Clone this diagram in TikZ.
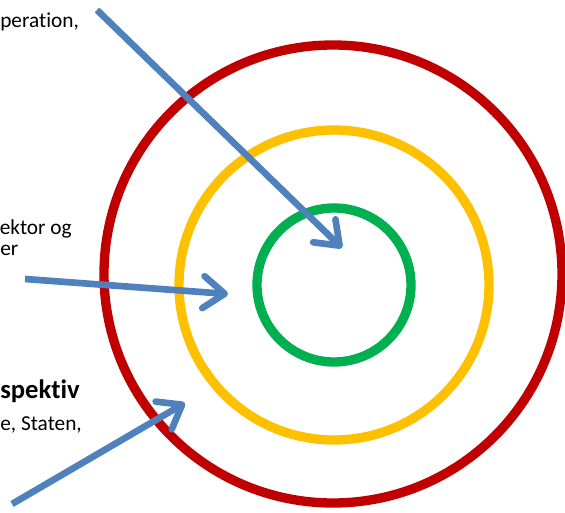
\documentclass[tikz,border=0pt]{standalone}
\usepackage{fontspec}
\setmainfont{Carlito}[Ligatures=NoCommon]
\usepackage{tikz}
\usetikzlibrary{arrows.meta,positioning}

\definecolor{ringred}{RGB}{192,0,0}
\definecolor{ringyellow}{RGB}{255,192,0}
\definecolor{ringgreen}{RGB}{0,176,80}
\definecolor{arrowblue}{RGB}{79,129,189}

\begin{document}
\begin{tikzpicture}[x=0.75pt,y=-0.75pt,
                ring/.style={line width=7pt},
                pointer/.style={arrowblue, line width=5pt, -{Straight Barb[length=16pt,width=24pt,round]}},
                label/.style={anchor=base west, inner sep=0pt, font=\fontsize{16}{19}\selectfont},
                boldlabel/.style={label, font=\fontsize{20}{24}\selectfont\bfseries}]
                \useasboundingbox (0,0) rectangle (565,513);

                \coordinate (centre) at (334,285);
                \draw[ring, ringred]    (333,274) circle (171.75pt);
                \draw[ring, ringyellow] (centre) circle (116.25pt);
                \draw[ring, ringgreen]  (centre) circle (57.75pt);

                \node[label] (opText) at (0,28) {peration,};
                \node[label, anchor=base east] (sektorText) at (72,235) {ektor og};
                \node[label] (erText) at (0,256) {er};
                \node[boldlabel] (perspText) at (0,399) {spektiv};
                \node[label] (statenText) at (0,431) {e, Staten,};

                \coordinate (startA) at (97,10);
                \coordinate (endA) at (342,248);
                \coordinate (startB) at (25,279);
                \coordinate (endB) at (228,294);
                \coordinate (startC) at (12,504);
                \coordinate (endC) at (185,403);

                \draw[pointer] (startA) -- (endA);
                \draw[pointer] (startB) -- (endB);
                \draw[pointer] (startC) -- (endC);
                \end{tikzpicture}
\end{document}
